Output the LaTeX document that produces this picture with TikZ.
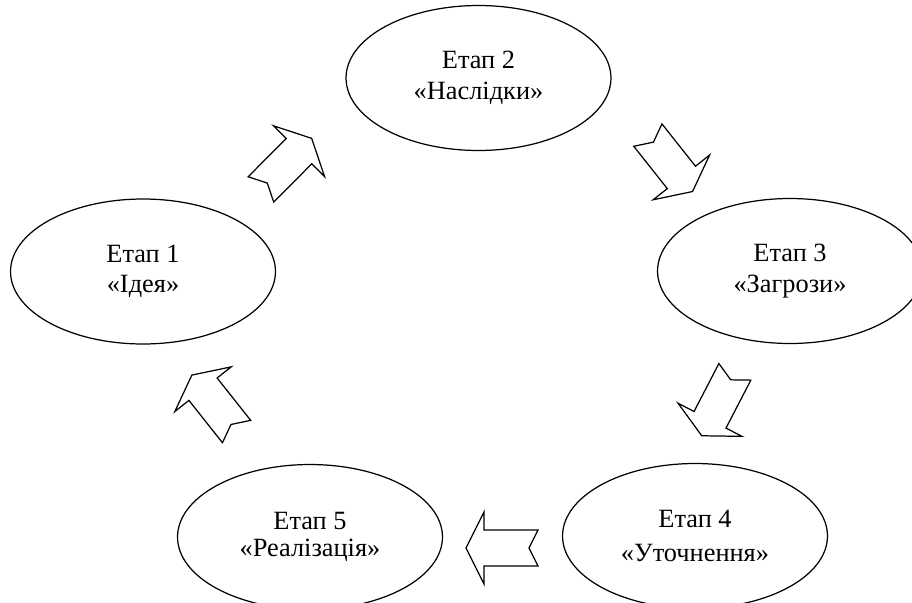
\documentclass[tikz,border=0pt]{standalone}
\usepackage{fontspec}
\setmainfont{Liberation Serif}
\usetikzlibrary{shapes.geometric}
\tikzset{
  stage/.style ={ellipse, draw=black, line width=0.7pt, inner sep=0pt,
                 minimum width=5.3cm, minimum height=2.9cm, align=center,
                 font=\fontsize{15}{17}\selectfont},
  stagearrow/.pic={
    \draw[line width=0.7pt, fill=white]
      (36,0) -- (18,-36) -- (18,-18) -- (-36,-18) -- (-27,0) -- (-36,18) -- (18,18) -- (18,36) -- cycle;
  },
}

\begin{document}
\begin{tikzpicture}[x=0.02cm, y=-0.02cm]
\useasboundingbox (0,0) rectangle (912,602);
\clip (0,0) rectangle (912,602);
\node[stage] (e1) at (143,271.5) {Етап 1\\«Ідея»};
\node[stage] (e2) at (478.5,78) {Етап 2\\[1pt]«Наслідки»};
\node[stage] (e3) at (790,271) {Етап 3\\[0.5pt]«Загрози»};
\node[stage] (e4) at (695,536) {Етап 4\\[2.5pt]«Уточнення»};
\node[stage] (e5) at (310,537) {Етап 5\\[-2pt]«Реалізація»};
\foreach \cx/\cy/\ang in {286.3/163.9/45.2, 670.2/163.3/-51.6, 718.3/403.8/-117.4, 502/548/180, 214.2/403.3/128.4}
  \pic[rotate=\ang] at (\cx,\cy) {stagearrow};
\end{tikzpicture}
\end{document}
